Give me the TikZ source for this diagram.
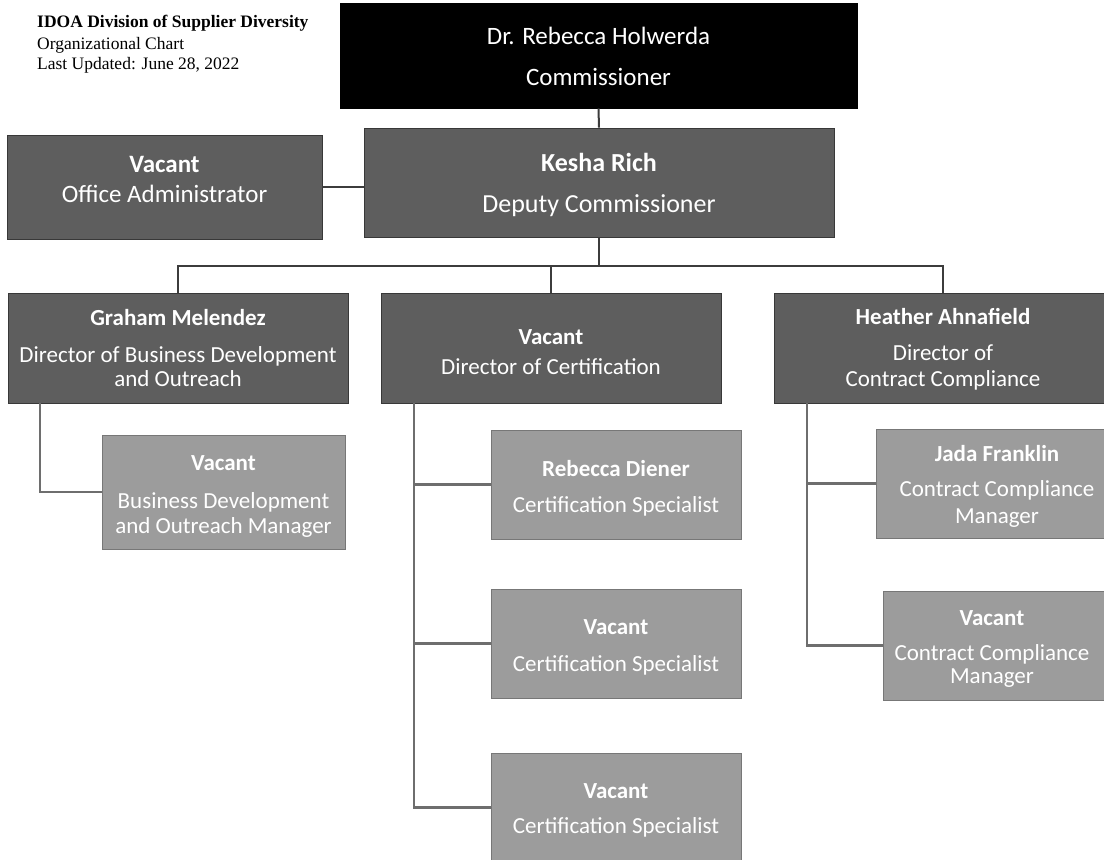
\documentclass[tikz,border=0pt]{standalone}
\usepackage{fontspec}
\setmainfont{Carlito}
\newfontfamily\ttlfont{Liberation Serif}
\definecolor{darkfill}{HTML}{5E5E5E}
\definecolor{darkedge}{HTML}{383838}
\definecolor{lightfill}{HTML}{9C9C9C}
\definecolor{lightedge}{HTML}{777777}
\definecolor{mainln}{HTML}{3C3C3C}
\definecolor{subln}{HTML}{6E6E6E}
\newcommand{\fsBig}{\fontsize{25}{30}\selectfont}
\newcommand{\fsDep}{\fontsize{26}{31}\selectfont}
\newcommand{\fsMid}{\fontsize{23}{28}\selectfont}
\newcommand{\fsTtl}{\fontsize{17.5}{21}\selectfont}
\tikzset{
  boxbase/.style={rectangle, inner sep=0pt, line width=0.8pt},
  blackbox/.style={boxbase, fill=black, draw=black},
  darkbox/.style={boxbase, fill=darkfill, draw=darkedge},
  lightbox/.style={boxbase, fill=lightfill, draw=lightedge},
  wtext/.style={text=white, inner sep=0pt, anchor=base},
  ttltext/.style={text=black, inner sep=0pt, anchor=base west, font=\ttlfont\fsTtl},
  mainline/.style={draw=mainln, line width=2pt},
  subline/.style={draw=subln, line width=2.2pt},
}
\begin{document}
\begin{tikzpicture}[x=1pt,y=-1pt]
\path[use as bounding box, fill=white] (0,0) rectangle (1104,860);

% title
\node[ttltext, font=\ttlfont\fsTtl\bfseries] (t1) at (37,27) {IDOA Division of Supplier Diversity};
\node[ttltext] (t2) at (37,49) {Organizational Chart};
\node[ttltext] (t3) at (37,69) {Last Updated: June 28, 2022};

% boxes
\node[blackbox, minimum width=517pt, minimum height=105pt] (comm) at (598.5,55.5) {};
\node[darkbox, minimum width=470pt, minimum height=109pt] (dep) at (599,182.5) {};
\node[darkbox, minimum width=315pt, minimum height=104pt] (oadm) at (164.5,187) {};
\node[darkbox, minimum width=340pt, minimum height=110pt] (graham) at (178,348) {};
\node[darkbox, minimum width=340pt, minimum height=110pt] (vdc) at (551,348) {};
\node[darkbox, minimum width=338pt, minimum height=110pt] (heather) at (943,348) {};
\node[lightbox, minimum width=243pt, minimum height=114pt] (bdm) at (223.5,492) {};
\node[lightbox, minimum width=250pt, minimum height=109pt] (rd) at (616,484.5) {};
\node[lightbox, minimum width=250pt, minimum height=109pt] (vc2) at (616,643.5) {};
\node[lightbox, minimum width=250pt, minimum height=109pt] (vc3) at (616,807.5) {};
\node[lightbox, minimum width=242pt, minimum height=109pt] (jada) at (997,483.5) {};
\node[lightbox, minimum width=223pt, minimum height=109pt] (vccm) at (994.5,645.5) {};

% texts
\node[wtext, font=\fsBig] (comm1) at (598.5,44) {Dr. Rebecca Holwerda};
\node[wtext, font=\fsBig] (comm2) at (598.5,85) {Commissioner};
\node[wtext, font=\fsDep\bfseries] (dep1) at (599,171) {Kesha Rich};
\node[wtext, font=\fsDep] (dep2) at (599,212) {Deputy Commissioner};
\node[wtext, font=\fsBig\bfseries] (oadm1) at (164.5,172) {Vacant};
\node[wtext, font=\fsBig] (oadm2) at (164.5,202) {Office Administrator};
\node[wtext, font=\fsMid\bfseries] (gr1) at (178,325) {Graham Melendez};
\node[wtext, font=\fsMid] (gr2) at (178,362) {Director of Business Development};
\node[wtext, font=\fsMid] (gr3) at (178,386) {and Outreach};
\node[wtext, font=\fsMid\bfseries] (vdc1) at (551,344) {Vacant};
\node[wtext, font=\fsMid] (vdc2) at (551,374) {Director of Certification};
\node[wtext, font=\fsMid\bfseries] (he1) at (943,324) {Heather Ahnafield};
\node[wtext, font=\fsMid] (he2) at (943,360) {Director of};
\node[wtext, font=\fsMid] (he3) at (943,386) {Contract Compliance};
\node[wtext, font=\fsMid\bfseries] (bdm1) at (223.5,470) {Vacant};
\node[wtext, font=\fsMid] (bdm2) at (223.5,508) {Business Development};
\node[wtext, font=\fsMid] (bdm3) at (223.5,533) {and Outreach Manager};
\node[wtext, font=\fsMid\bfseries] (rd1) at (616,476) {Rebecca Diener};
\node[wtext, font=\fsMid] (rd2) at (616,512) {Certification Specialist};
\node[wtext, font=\fsMid\bfseries] (vc2a) at (616,634) {Vacant};
\node[wtext, font=\fsMid] (vc2b) at (616,671) {Certification Specialist};
\node[wtext, font=\fsMid\bfseries] (vc3a) at (616,798) {Vacant};
\node[wtext, font=\fsMid] (vc3b) at (616,833) {Certification Specialist};
\node[wtext, font=\fsMid\bfseries] (ja1) at (997,461) {Jada Franklin};
\node[wtext, font=\fsMid] (ja2) at (997,496) {Contract Compliance};
\node[wtext, font=\fsMid] (ja3) at (997,523) {Manager};
\node[wtext, font=\fsMid\bfseries] (cc1) at (992,625) {Vacant};
\node[wtext, font=\fsMid] (cc2) at (992,660) {Contract Compliance};
\node[wtext, font=\fsMid] (cc3) at (992,683) {Manager};

% main connectors
\coordinate (busy) at (0,266);
\draw[mainline] (comm.south) -- (dep.north);
\draw[mainline] (oadm.east) -- (oadm.east -| dep.west);
\draw[mainline] (dep.south) -- (dep.south |- busy);
\draw[mainline] (graham.north) |- (heather.north |- busy) -- (heather.north);
\draw[mainline] (vdc.north) -- (vdc.north |- busy);

% sub connectors
\coordinate (gtop) at ([xshift=32pt]graham.south west);
\coordinate (vtop) at ([xshift=33pt]vdc.south west);
\coordinate (htop) at ([xshift=33pt]heather.south west);
\draw[subline] (gtop) |- (bdm.west);
\draw[subline] (vtop) |- (vc3.west);
\draw[subline] (rd.west) -- (rd.west -| vtop);
\draw[subline] (vc2.west) -- (vc2.west -| vtop);
\draw[subline] (htop) |- (vccm.west);
\draw[subline] (jada.west) -- (jada.west -| htop);
\end{tikzpicture}
\end{document}
